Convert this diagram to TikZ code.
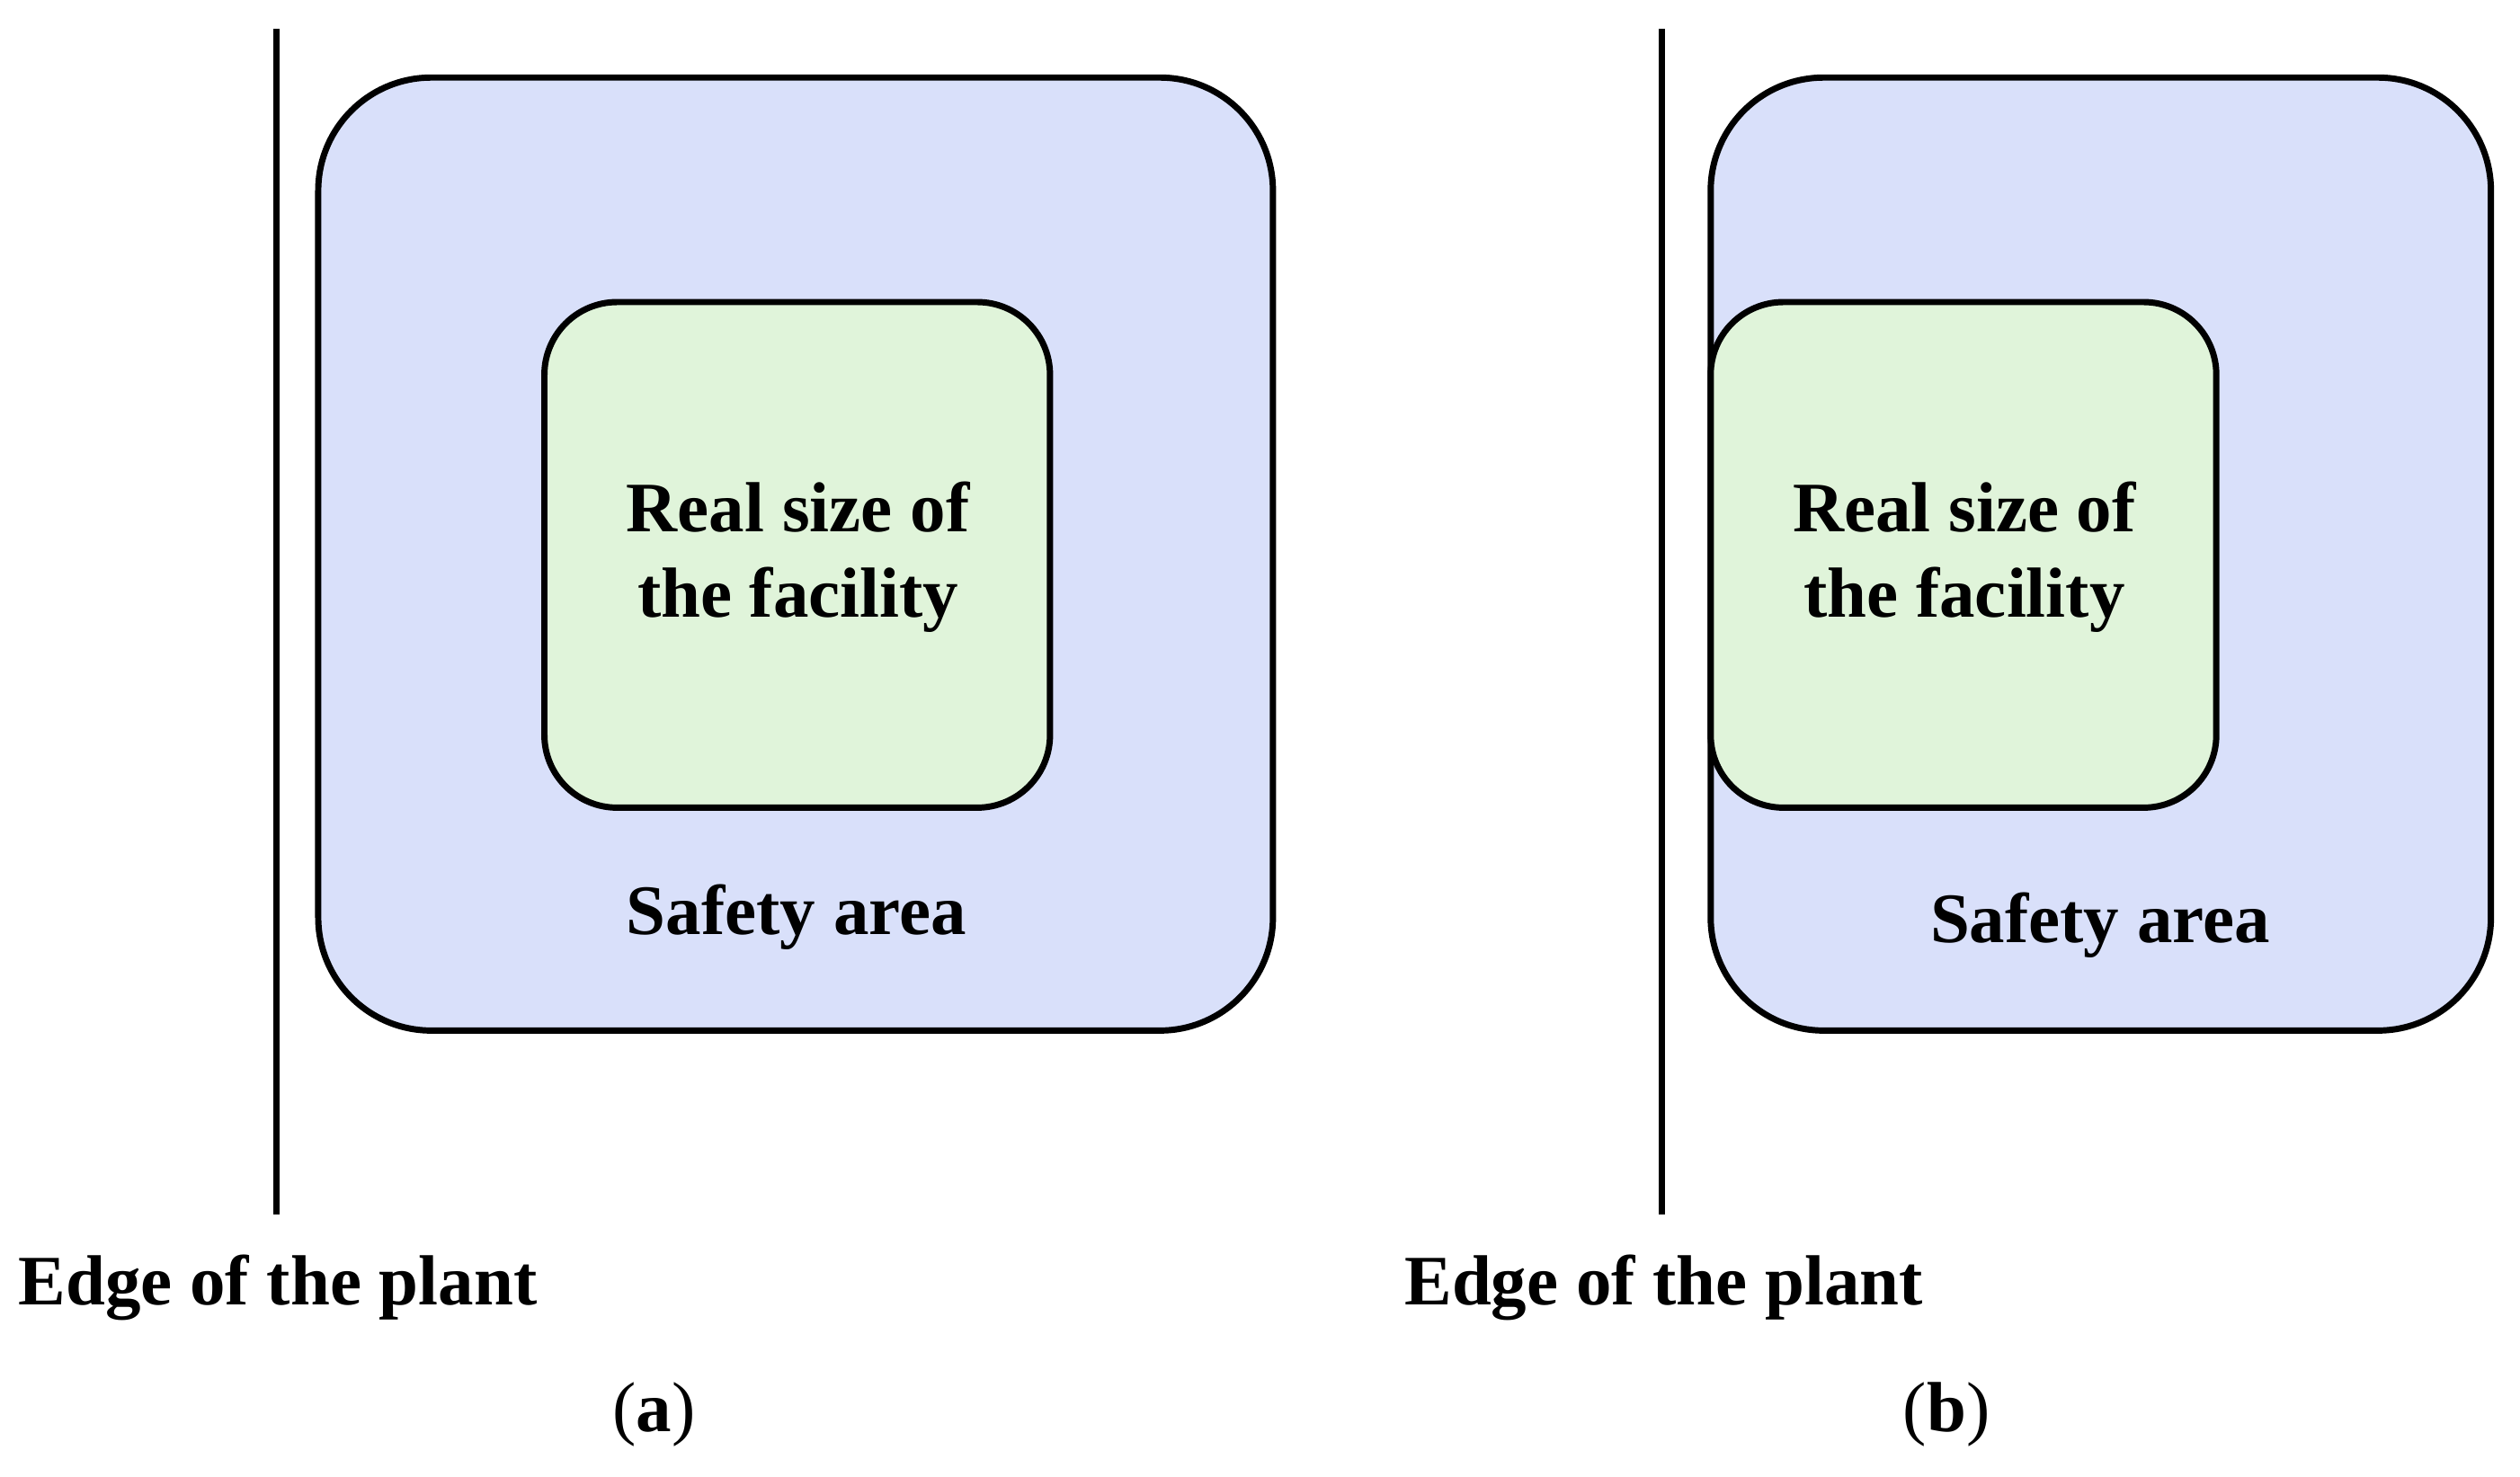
\documentclass[tikz,border=0pt]{standalone}
\usepackage{fontspec}
\setmainfont{Liberation Serif}
\begin{document}
\begin{tikzpicture}[x=0.02cm,y=-0.02cm,
  outer/.style={draw=black,line width=2.2pt,rounded corners=1.4cm},
  inner/.style={draw=black,line width=2.2pt,rounded corners=0.9cm},
  edge/.style={draw=black,line width=2.2pt},
  lbl/.style={font=\fontsize{25}{30}\selectfont\bfseries,align=center},
  subcap/.style={font=\fontsize{25}{30}\selectfont}]
\useasboundingbox (0,0) rectangle (1560,914);
\definecolor{safe}{RGB}{217,224,250}
\definecolor{real}{RGB}{224,244,218}
% (a)
\coordinate (la1) at (171,18); \coordinate (la2) at (171,752);
\draw[edge] (la1) -- (la2);
\filldraw[outer,fill=safe] (197,48) rectangle (788,638);
\filldraw[inner,fill=real] (337,187) rectangle (650,500);
\node[lbl] (ra) at (494,345) {Real size of\\the facility};
\node[lbl] (sa) at (493,568) {Safety area};
\node[lbl] (ea) at (172,797) {Edge of the plant};
\node[subcap] (ca) at (405,876) {(\textbf{a})};
% (b)
\coordinate (lb1) at (1029,18); \coordinate (lb2) at (1029,752);
\draw[edge] (lb1) -- (lb2);
\filldraw[outer,fill=safe] (1059,48) rectangle (1542,638);
\filldraw[inner,fill=real] (1059,187) rectangle (1372,500);
\node[lbl] (rb) at (1216,345) {Real size of\\the facility};
\node[lbl] (sb) at (1300,573) {Safety area};
\node[lbl] (eb) at (1030,797) {Edge of the plant};
\node[subcap] (cb) at (1205,876) {(\textbf{b})};
\end{tikzpicture}
\end{document}
